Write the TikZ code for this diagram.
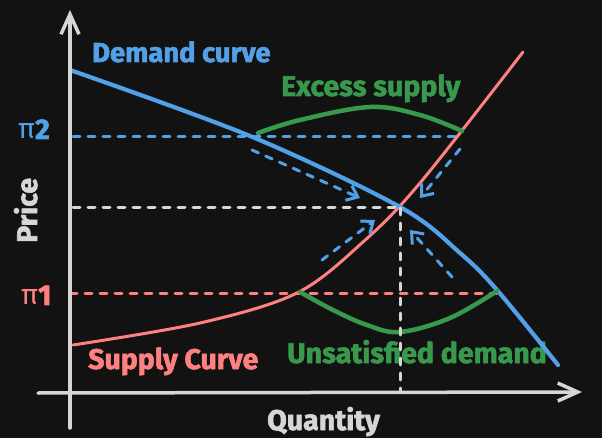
\documentclass[tikz,border=0pt]{standalone}
\usepackage{fontspec}
\setmainfont{Fira Sans}[BoldFeatures={FakeBold=2}]
\usetikzlibrary{arrows.meta}
\definecolor{bg}{RGB}{18,18,18}
\definecolor{cblue}{RGB}{82,160,232}
\definecolor{cred}{RGB}{255,128,128}
\definecolor{cgreen}{RGB}{56,152,76}
\definecolor{cgray}{RGB}{214,214,214}
\begin{document}
\begin{tikzpicture}[x=1pt,y=-1pt, line cap=round, line join=round,
  dsh/.style={line width=3pt, dash pattern=on 7pt off 8pt},
  lbl/.style={inner sep=0pt, anchor=base west, font=\fontsize{28.5}{32}\selectfont\bfseries},
  dtip/.style={-{Straight Barb[length=10pt,width=16pt]}},
  axtip/.style={-{Straight Barb[length=20pt,width=18pt]}},
]
\fill[bg] (0,0) rectangle (602,438);
\useasboundingbox (0,0) rectangle (602,438);
% labels
\node[lbl, text=cblue, font=\fontsize{27.4}{30}\selectfont\bfseries] (dem) at (92,62) {Demand curve};
\node[lbl, text=cgreen] (exc) at (281,96) {Excess supply};
\node[lbl, text=cred] (sup) at (88,369) {Supply Curve};
\node[lbl, text=cgreen] (uns) at (287,363) {Unsatisfied demand};
\node[lbl, text=cgray] (qty) at (267,430) {Quantity};
\node[lbl, text=cgray, rotate=90] (prc) at (37,243) {Price};
\node[lbl, text=cblue] (pi2) at (18,139) {{\mdseries π}2};
\node[lbl, text=cred] (pi1) at (21,305) {{\mdseries π}1};
% key points
\coordinate (Eq) at (400,208);
\coordinate (P2L) at (73,137);
\coordinate (P2R) at (455,137);
\coordinate (P1L) at (70,293);
\coordinate (P1R) at (497,293);
\coordinate (EqL) at (73,208);
\coordinate (EqB) at (400,392);
% dashed guide lines
\draw[dsh, cblue] (P2L) -- (P2R);
\draw[dsh, cred] (P1L) -- (P1R);
% supply curve
\draw[cred, line width=3pt] plot[smooth, tension=0.55] coordinates {(73,345) (200,323) (297,293) (363,242) (420,183) (523,52)};
% demand curve
\draw[cblue, line width=4.2pt] plot[smooth, tension=0.55] coordinates {(70,70) (250,136) (400,207) (460,253) (497,290) (558,365)};
% green areas
\draw[cgreen, line width=4.5pt] plot[smooth, tension=0.6] coordinates {(258,133) (300,120) (370,107) (420,115) (462,131)};
\draw[cgreen, line width=4.5pt] plot[smooth, tension=0.6] coordinates {(300,292) (333,310) (367,325) (400,332) (450,318) (497,291)};
% equilibrium guides
\draw[dsh, cgray] (EqL) -- (Eq);
\draw[dsh, cgray] (Eq) -- (EqB);
% dashed arrows
\coordinate (a1s) at (252,150); \coordinate (a1e) at (360,198);
\coordinate (a2s) at (460,149); \coordinate (a2e) at (420,198);
\coordinate (a3s) at (322,260); \coordinate (a3e) at (375,220);
\coordinate (a4s) at (452,277); \coordinate (a4e) at (410,230);
\draw[dsh, cblue, dtip] (a1s) -- (a1e);
\draw[dsh, cblue, dtip] (a2s) -- (a2e);
\draw[dsh, cblue, dtip] (a3s) -- (a3e);
\draw[dsh, cblue, dtip] (a4s) -- (a4e);
% axes
\coordinate (yb) at (70,428); \coordinate (yt) at (70,10);
\coordinate (xl) at (38,393); \coordinate (xr) at (582,392);
\draw[cgray, line width=3.5pt, axtip] (yb) -- (yt);
\draw[cgray, line width=3.5pt, axtip] (xl) -- (xr);
\end{tikzpicture}
\end{document}
